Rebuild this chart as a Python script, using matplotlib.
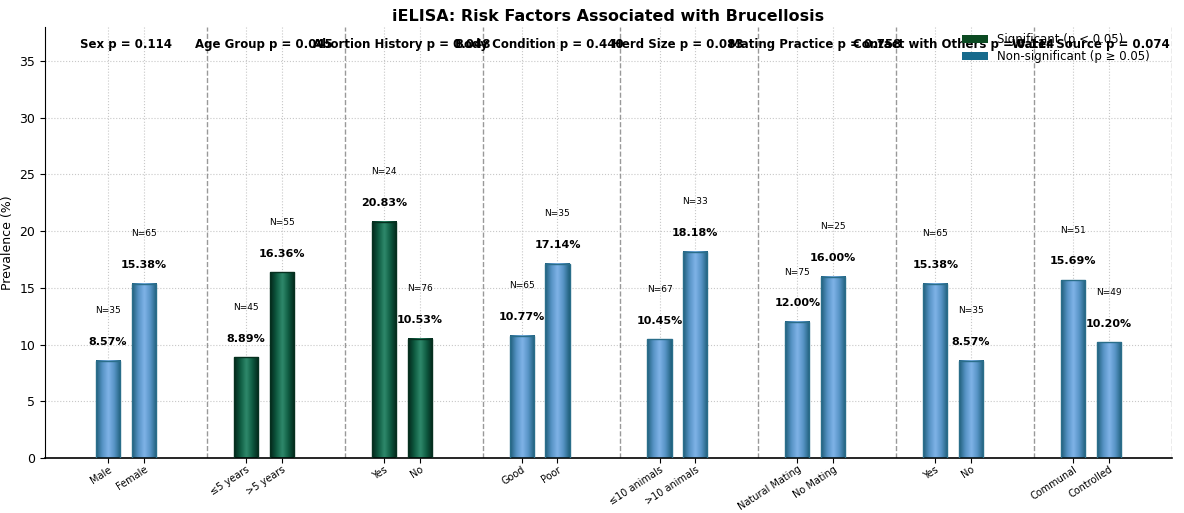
import numpy as np
import matplotlib
matplotlib.use("Agg")
import matplotlib.pyplot as plt
from matplotlib.colors import LinearSegmentedColormap
from matplotlib.patches import Patch

factors = ["Sex", "Age Group", "Abortion History", "Body Condition",
           "Herd Size", "Mating Practice", "Contact with Others", "Water Source"]
p_values = [0.114, 0.045, 0.048, 0.440, 0.083, 0.758, 0.114, 0.074]
levels = [["Male", "Female"], ["≤5 years", ">5 years"], ["Yes", "No"], ["Good", "Poor"],
          ["≤10 animals", ">10 animals"], ["Natural Mating", "No Mating"], ["Yes", "No"],
          ["Communal", "Controlled"]]
prevalence = [[8.57, 15.38], [8.89, 16.36], [20.83, 10.53], [10.77, 17.14],
              [10.45, 18.18], [12.00, 16.00], [15.38, 8.57], [15.69, 10.20]]
counts = [[35, 65], [45, 55], [24, 76], [65, 35], [67, 33], [75, 25], [65, 35], [51, 49]]

blue_cmap = LinearSegmentedColormap.from_list("b", ["#1f5f7a", "#5592c4", "#80b3e8", "#5592c4", "#1f5f7a"])
green_cmap = LinearSegmentedColormap.from_list("g", ["#03261a", "#0e5a40", "#2f8a6c", "#0e5a40", "#03261a"])

fig = plt.figure(figsize=(11.84, 5.13), dpi=100)
ax = fig.add_axes([45 / 1184, 1 - 458 / 513, (1172 - 45) / 1184, (458 - 27) / 513])

offset = 0.13
width = 0.175
grad = np.linspace(0, 1, 64).reshape(1, -1)
ticks, ticklabels = [], []
for i, (fac, p) in enumerate(zip(factors, p_values)):
    sig = p < 0.05
    cmap = green_cmap if sig else blue_cmap
    edge = "#06301f" if sig else "#2a6e8a"
    for j, (lab, val, n) in enumerate(zip(levels[i], prevalence[i], counts[i])):
        x = i + (j - 0.5) * 2 * offset
        ticks.append(x)
        ticklabels.append(lab)
        ax.imshow(grad, cmap=cmap, aspect="auto", extent=(x - width / 2, x + width / 2, 0, val),
                  zorder=2, interpolation="bicubic")
        ax.bar(x, val, width=width, facecolor="none", edgecolor=edge, linewidth=1.0, zorder=3)
        ax.text(x, val + 1.2, f"{val:.2f}%", ha="center", va="bottom", fontsize=8, fontweight="bold", zorder=4)
        ax.text(x, val + 4.0, f"N={n}", ha="center", va="bottom", fontsize=6.5, zorder=4)
    ax.text(i, 36.5, f"{fac} p = {p:.3f}", ha="center", va="center", fontsize=8.5, fontweight="bold", zorder=4)
    ax.axvline(i + 0.587, color="grey", linestyle="--", linewidth=1, alpha=0.8, zorder=1)

ax.set_xlim(-0.587, 7.587)
ax.set_ylim(0, 38)
ax.set_xticks(ticks)
ax.set_xticklabels(ticklabels, rotation=33, ha="right", fontsize=7, rotation_mode="anchor")
ax.tick_params(axis="x", pad=1)
ax.set_yticks(np.arange(0, 36, 5))
ax.tick_params(axis="y", labelsize=9)
ax.set_ylabel("Prevalence (%)", fontsize=9)
ax.grid(True, linestyle=":", color="#c8c8c8", linewidth=0.8, zorder=0)
ax.set_axisbelow(True)
ax.spines["top"].set_visible(False)
ax.spines["right"].set_visible(False)
ax.spines["bottom"].set_linewidth(1.2)

ax.set_title("iELISA: Risk Factors Associated with Brucellosis", fontsize=11.5, fontweight="bold", pad=4)

handles = [Patch(facecolor="#0b4a22", label="Significant (p < 0.05)"),
           Patch(facecolor="#176a8c", label="Non-significant (p ≥ 0.05)")]
ax.legend(handles=handles, loc="upper right", frameon=False, fontsize=8.5,
          bbox_to_anchor=(0.99, 1.01), handlelength=2.2, labelspacing=0.3)

fig.savefig("out.png", dpi=100)
